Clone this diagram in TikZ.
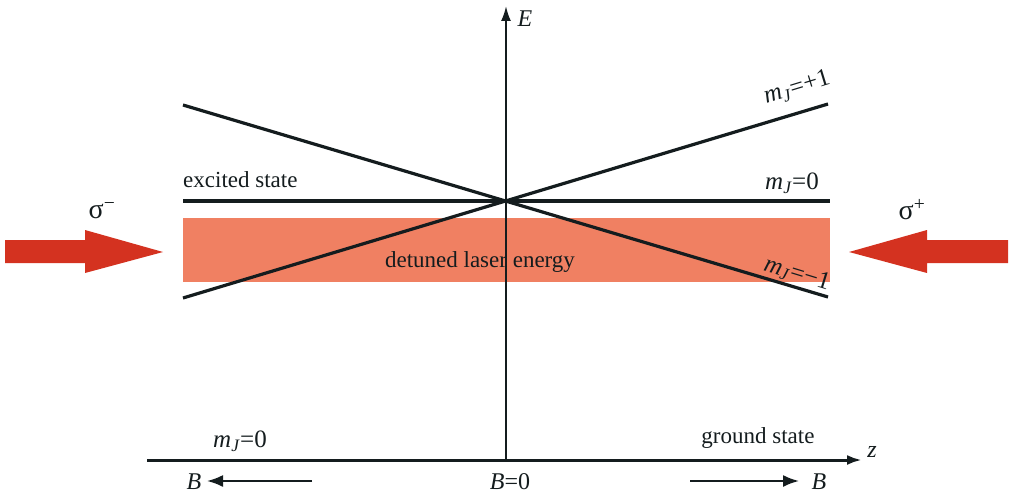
\documentclass[tikz,border=0pt]{standalone}
\usepackage{fontspec}
\setmainfont{Liberation Serif}
\usetikzlibrary{arrows.meta}
\definecolor{laser}{RGB}{240,128,98}
\definecolor{beam}{RGB}{212,50,32}
\definecolor{ink}{RGB}{20,28,30}
\newcommand\mJ{\textit{m}\textsubscript{\textit{J}}}
\begin{document}
\begin{tikzpicture}[x=1pt,y=-1pt,
  lbl/.style={font=\fontsize{23}{27}\selectfont, inner sep=0pt, text=ink},
  mlbl/.style={font=\fontsize{25}{29}\selectfont, inner sep=0pt, text=ink},
  level/.style={line width=3.2pt, draw=ink},
  axisline/.style={line width=2pt, draw=ink, -{Latex[length=15pt,width=10pt]}},
  barrow/.style={line width=2pt, draw=ink, -{Latex[length=16pt,width=12pt]}},
  beamarrow/.style={fill=beam}]
\useasboundingbox (0,0) rectangle (1014,495);
% laser band
\fill[laser] (183,218) rectangle (830,282);
\node[lbl] (det) at (480,262) {detuned laser energy};
% coordinates
\coordinate (Ebot) at (506,460);
\coordinate (Etop) at (506,6);
\coordinate (gL) at (147,460);
\coordinate (gR) at (862,460);
\coordinate (exL) at (183,201);
\coordinate (exR) at (830,201);
\coordinate (pL) at (183,298);
\coordinate (pR) at (828,104);
\coordinate (mL) at (183,105);
\coordinate (mR) at (828,297);
% levels
\draw[level] (exL) -- (exR);
\draw[level] (pL) -- (pR);
\draw[level] (mL) -- (mR);
% axes
\draw[axisline] (Ebot) -- (Etop);
\draw[axisline, line width=3pt] (gL) -- (gR);
\node[lbl, font=\fontsize{24}{28}\selectfont\itshape] (E) at (525,19) {E};
\node[lbl, font=\fontsize{24}{28}\selectfont\itshape] (z) at (872,452) {z};
% labels
\node[lbl, anchor=west] (exc) at (183,180) {excited state};
\node[mlbl] (mp) at (797,88) [rotate=17] {\mJ=+1};
\node[mlbl] (m0) at (792,183) {\mJ=0};
\node[mlbl] (mm) at (797,274) [rotate=-17] {\mJ=−1};
\node[mlbl] (mg) at (240,441) {\mJ=0};
\node[lbl] (gs) at (758,438) {ground state};
% B arrows
\node[lbl, font=\fontsize{24}{28}\selectfont\itshape] (BL) at (194,482) {B};
\node[lbl, font=\fontsize{24}{28}\selectfont\itshape] (BR) at (819,482) {B};
\node[lbl, font=\fontsize{24}{28}\selectfont] (B0) at (510,482) {\textit{B}=0};
\coordinate (bl1) at (312,481);
\coordinate (bl2) at (207,481);
\coordinate (br1) at (690,481);
\coordinate (br2) at (799,481);
\draw[barrow] (bl1) -- (bl2);
\draw[barrow] (br1) -- (br2);
% laser beams
\fill[beamarrow] (5,240) -- (85,240) -- (85,230) -- (163,252) -- (85,273) -- (85,263) -- (5,263) -- cycle;
\fill[beamarrow] (1008,240) -- (927,240) -- (927,230) -- (849,252) -- (927,273) -- (927,263) -- (1008,263) -- cycle;
\node[lbl, font=\fontsize{28}{32}\selectfont] (sm) at (102,211) {σ\textsuperscript{−}};
\node[lbl, font=\fontsize{28}{32}\selectfont] (sp) at (912,210) {σ\textsuperscript{+}};
\end{tikzpicture}
\end{document}
